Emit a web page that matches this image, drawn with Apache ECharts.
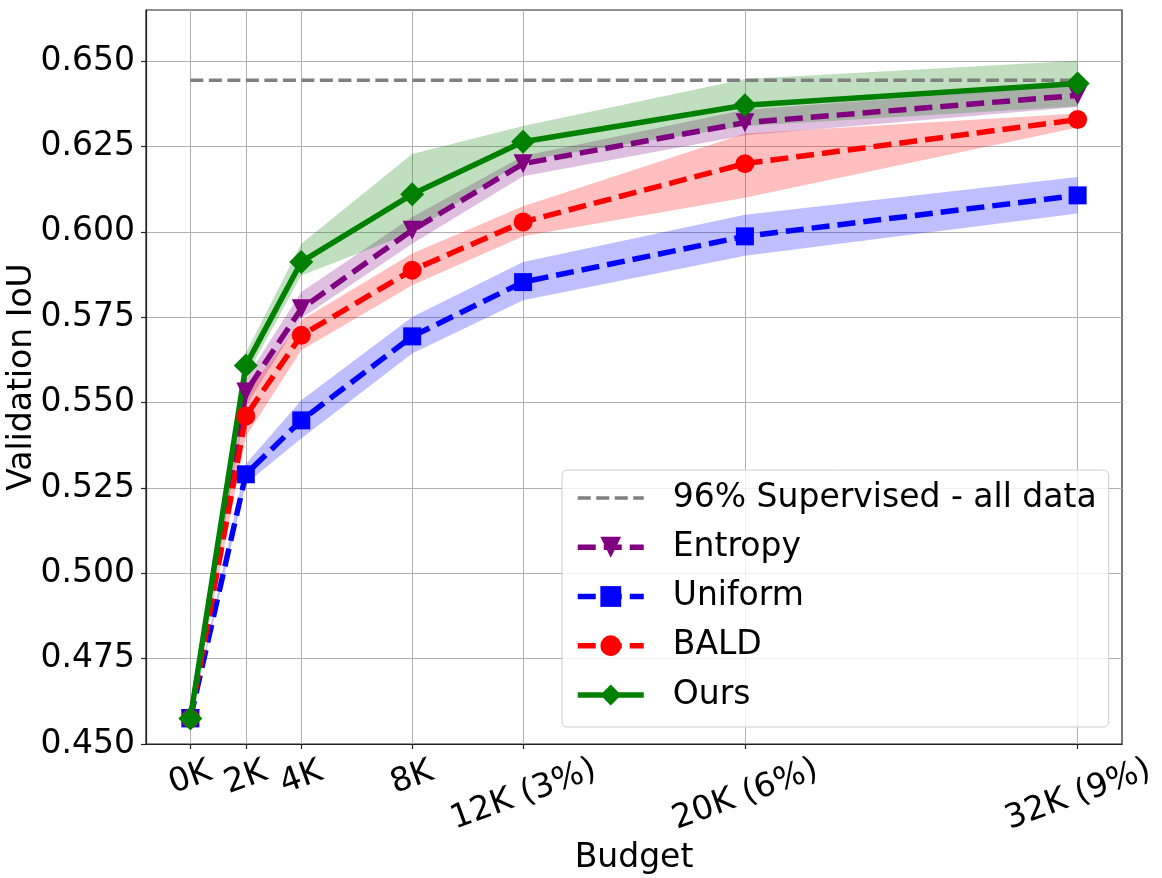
<!DOCTYPE html>
<html>
<head>
<meta charset="utf-8">
<script src="https://cdn.jsdelivr.net/npm/echarts@6/dist/echarts.min.js"></script>
<style>
  html, body { margin: 0; padding: 0; background: #fff; }
  #chart { width: 1162px; height: 878px; }
</style>
</head>
<body>
<div id="chart"></div>
<script>
// Budget (in thousands of labels) and tick labels
const budgets = [0, 2, 4, 8, 12, 20, 32];
const budgetLabels = ['0K', '2K', '4K', '8K', '12K (3%)', '20K (6%)', '32K (9%)'];
const yTicks = [0.450, 0.475, 0.500, 0.525, 0.550, 0.575, 0.600, 0.625, 0.650];

// 96% of fully supervised IoU
const supervised = 0.6444;

// Mean validation IoU per method, with band bounds
const entropy   = [0.4575, 0.5531, 0.5775, 0.6005, 0.6200, 0.6320, 0.6400];
const entropyLo = [0.4575, 0.5490, 0.5747, 0.5965, 0.6163, 0.6283, 0.6366];
const entropyHi = [0.4575, 0.5570, 0.5824, 0.6044, 0.6222, 0.6358, 0.6430];

const uniform   = [0.4575, 0.5290, 0.5448, 0.5694, 0.5853, 0.5987, 0.6107];
const uniformLo = [0.4575, 0.5262, 0.5395, 0.5644, 0.5800, 0.5930, 0.6054];
const uniformHi = [0.4575, 0.5320, 0.5507, 0.5751, 0.5912, 0.6050, 0.6161];

const bald   = [0.4575, 0.5461, 0.5697, 0.5888, 0.6029, 0.6200, 0.6329];
const baldLo = [0.4575, 0.5400, 0.5653, 0.5844, 0.5987, 0.6100, 0.6306];
const baldHi = [0.4575, 0.5525, 0.5741, 0.5937, 0.6075, 0.6288, 0.6347];

const ours   = [0.4575, 0.5609, 0.5912, 0.6110, 0.6264, 0.6371, 0.6435];
const oursLo = [0.4575, 0.5575, 0.5872, 0.5998, 0.6210, 0.6310, 0.6368];
const oursHi = [0.4575, 0.5645, 0.5965, 0.6228, 0.6310, 0.6448, 0.6501];

const FONT = 'DejaVu Sans';
const FS = 33;
const chart = echarts.init(document.getElementById('chart'));

// shaded band between lo and hi, drawn as one polygon
function bandSeries(name, lo, hi, color) {
  return {
    name: name,
    type: 'custom',
    silent: true,
    clip: true,
    data: budgets.map((b, i) => [b, lo[i], hi[i]]),
    encode: { x: 0, y: [1, 2] },
    renderItem: (params, api) => {
      if (params.dataIndex !== 0) return null;
      const upper = budgets.map((b, i) => api.coord([b, hi[i]]));
      const lower = budgets.map((b, i) => api.coord([b, lo[i]])).reverse();
      return {
        type: 'polygon',
        shape: { points: upper.concat(lower) },
        style: { fill: color, stroke: null }
      };
    }
  };
}

function lineSeries(name, values, color, dashed, symbol, size, rotate) {
  return {
    name: name,
    type: 'line',
    data: budgets.map((b, i) => [b, values[i]]),
    symbol: symbol,
    symbolSize: size,
    symbolRotate: rotate || 0,
    showAllSymbol: true,
    lineStyle: { color: color, width: 5.5, type: dashed ? [18, 8] : 'solid' },
    itemStyle: { color: color },
    emphasis: { disabled: true }
  };
}

const option = {
  animation: false,
  backgroundColor: '#fff',
  grid: {
    left: 146, right: 40, top: 10, bottom: 134,
    show: true, borderColor: '#222', borderWidth: 1.2,
    outerBoundsMode: 'none'
  },
  legend: {
    orient: 'vertical',
    left: 562, top: 470,
    padding: [9, 12, 13, 13],
    itemGap: 11.25,
    itemWidth: 66,
    itemHeight: 26,
    backgroundColor: 'rgba(255,255,255,0.8)',
    borderColor: '#cccccc',
    borderWidth: 1,
    borderRadius: 5,
    textStyle: { fontFamily: FONT, fontSize: FS, color: '#000', lineHeight: 38, padding: [0, 0, 0, 24] },
    data: [
      { name: '96% Supervised - all data', lineStyle: { width: 3.5 }, itemStyle: { opacity: 0 } },
      { name: 'Entropy', lineStyle: { width: 5.5 } },
      { name: 'Uniform', lineStyle: { width: 5.5 } },
      { name: 'BALD', lineStyle: { width: 5.5 } },
      { name: 'Ours', lineStyle: { width: 5.5 } }
    ]
  },
  xAxis: {
    type: 'value',
    min: -1.6,
    max: 33.6,
    name: 'Budget',
    nameLocation: 'middle',
    nameGap: 98,
    nameMoveOverlap: false,
    nameTextStyle: { fontFamily: FONT, fontSize: FS, color: '#000', verticalAlign: 'top' },
    axisLine: { onZero: false, lineStyle: { color: '#222', width: 1.2 } },
    axisTick: { show: true, customValues: budgets, length: 5, lineStyle: { color: '#222', width: 1.2 } },
    axisLabel: {
      customValues: budgets,
      rotate: 20,
      align: 'center',
      verticalAlign: 'middle',
      margin: 34,
      lineHeight: 32,
      fontFamily: FONT,
      fontSize: FS,
      color: '#000',
      formatter: v => {
        const lab = budgetLabels[budgets.indexOf(v)] || '';
        // long labels pushed down one line so their tops line up with the short ones
        return lab.length > 3 ? '\n' + lab + ' ' : lab;
      }
    },
    splitLine: { show: true, lineStyle: { color: '#b0b0b0', width: 1 } }
  },
  yAxis: {
    type: 'value',
    min: 0.45,
    max: 0.665,
    name: 'Validation IoU',
    nameLocation: 'middle',
    nameGap: 107,
    nameMoveOverlap: false,
    nameTextStyle: { fontFamily: FONT, fontSize: FS, color: '#000' },
    axisLine: { show: true, onZero: false, lineStyle: { color: '#222', width: 1.2 } },
    axisTick: { show: true, customValues: yTicks, length: 5, lineStyle: { color: '#222', width: 1.2 } },
    axisLabel: {
      customValues: yTicks,
      margin: 11,
      fontFamily: FONT,
      fontSize: FS,
      color: '#000',
      formatter: v => v.toFixed(3)
    },
    splitLine: { show: true, lineStyle: { color: '#b0b0b0', width: 1 } }
  },
  series: [
    bandSeries('band-entropy', entropyLo, entropyHi, 'rgba(128,0,128,0.25)'),
    bandSeries('band-uniform', uniformLo, uniformHi, 'rgba(0,0,255,0.25)'),
    bandSeries('band-bald', baldLo, baldHi, 'rgba(255,0,0,0.25)'),
    bandSeries('band-ours', oursLo, oursHi, 'rgba(0,128,0,0.25)'),
    {
      name: '96% Supervised - all data',
      type: 'line',
      data: [[budgets[0], supervised], [budgets[budgets.length - 1], supervised]],
      symbol: 'none',
      lineStyle: { color: '#808080', width: 3.5, type: [13, 5.5] },
      itemStyle: { color: '#808080' },
      emphasis: { disabled: true }
    },
    lineSeries('Entropy', entropy, '#800080', true, 'triangle', 19, 180),
    lineSeries('Uniform', uniform, '#0000ff', true, 'rect', 18),
    lineSeries('BALD', bald, '#ff0000', true, 'circle', 19),
    lineSeries('Ours', ours, '#008000', false, 'diamond', 24)
  ]
};

chart.setOption(option);
</script>
</body>
</html>
